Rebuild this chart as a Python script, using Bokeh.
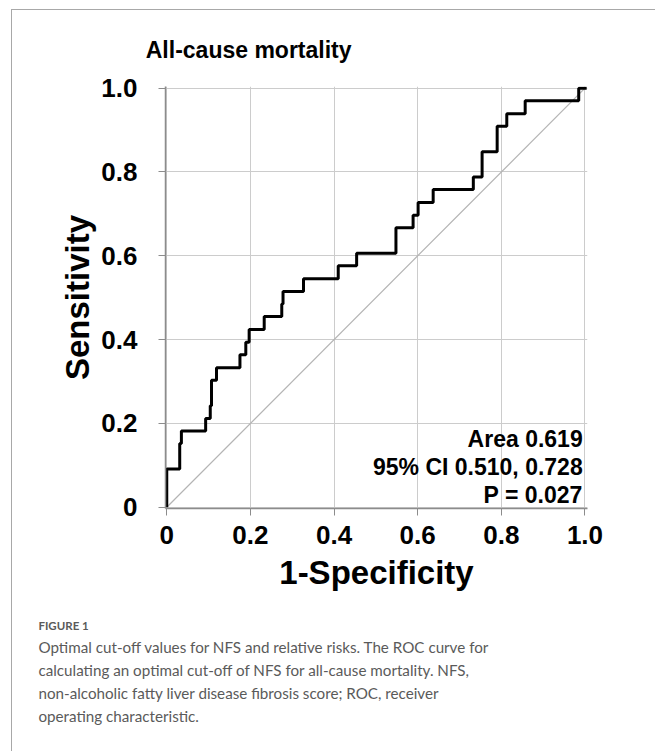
from bokeh.plotting import figure
from bokeh.models import Range1d, FixedTicker, Label, Title
from bokeh.embed import file_html
from bokeh.resources import INLINE

# ---- data ----
fpr = [0, 0, 0.031, 0.035, 0.093, 0.104, 0.107, 0.119, 0.175, 0.189, 0.197,
       0.233, 0.275, 0.278, 0.327, 0.410, 0.454, 0.548, 0.589, 0.601, 0.637,
       0.733, 0.754, 0.790, 0.813, 0.857, 0.985, 1.004]
tpr = [0, 0.091, 0.152, 0.182, 0.212, 0.242, 0.303, 0.333, 0.364, 0.394, 0.424,
       0.455, 0.485, 0.515, 0.545, 0.576, 0.606, 0.667, 0.697, 0.727, 0.758,
       0.788, 0.848, 0.909, 0.939, 0.970, 1.0, 1.0]
diag = [0, 1]
ticks = [0, 0.2, 0.4, 0.6, 0.8, 1.0]
tick_labels = ["0", "0.2", "0.4", "0.6", "0.8", "1.0"]
title_text = "All-cause mortality"
x_title = "1-Specificity"
y_title = "Sensitivity"
stats_lines = ["Area 0.619", "95% CI 0.510, 0.728", "P = 0.027"]
caption_head = "FIGURE 1"
caption_lines = [
    "Optimal cut-off values for NFS and relative risks. The ROC curve for",
    "calculating an optimal cut-off of NFS for all-cause mortality. NFS,",
    "non-alcoholic fatty liver disease fibrosis score; ROC, receiver",
    "operating characteristic.",
]

# ---- layout helpers (page pixels -> data) ----
OX, OY = 12, 10           # canvas origin on the page (after margin + border)
PX0, PX1 = 166.0, 584.0   # page x of 0 and 1
PY0, PY1 = 507.0, 88.0    # page y of 0 and 1
SX = PX1 - PX0
SY = PY0 - PY1


def dx(px):
    return (px - PX0) / SX


def dy(py):
    return (PY0 - py) / SY


xr = Range1d(-0.003, 1.006)
yr = Range1d(-0.003, 1.004)
fw = round((xr.end - xr.start) * SX)
fh = round((yr.end - yr.start) * SY)
left = round(PX0 + xr.start * SX - OX)
top = round(PY1 - (yr.end - 1) * SY - OY)
W, H = 655 - OX, 751 - OY

p = figure(frame_width=fw, frame_height=fh, x_range=xr, y_range=yr,
           min_border_left=left, min_border_top=top,
           min_border_right=W - left - fw, min_border_bottom=H - top - fh,
           output_backend="svg", toolbar_location=None, tools="")
p.styles = {"margin-left": "11px", "margin-top": "9px",
            "border-left": "1px solid #a8a8a8", "border-top": "1px solid #a8a8a8"}
p.outline_line_color = None
p.background_fill_color = "white"
p.border_fill_color = "white"

FONT = "Liberation Sans"
overrides = dict(zip(ticks, tick_labels))
for ax in (p.xaxis[0], p.yaxis[0]):
    ax.ticker = FixedTicker(ticks=ticks)
    ax.major_label_overrides = overrides
    ax.axis_line_color = "#8c8c8c"
    ax.axis_line_width = 1.5
    ax.major_tick_line_color = "#8c8c8c"
    ax.major_tick_out = 7
    ax.major_tick_in = 0
    ax.minor_tick_line_color = None
    ax.major_label_text_font = FONT
    ax.major_label_text_font_style = "bold"
    ax.major_label_text_font_size = "26px"
    ax.major_label_text_color = "black"
    ax.axis_label_text_font = FONT
    ax.axis_label_text_font_style = "bold"
    ax.axis_label_text_font_size = "33px"
    ax.axis_label_text_color = "black"

p.xaxis.axis_label = x_title
p.yaxis.axis_label = y_title
p.xaxis.major_label_standoff = 10
p.yaxis.major_label_standoff = 21
p.xaxis.axis_label_standoff = 7
p.yaxis.axis_label_standoff = 2

for g in (p.xgrid[0], p.ygrid[0]):
    g.grid_line_color = "#cccccc"
    g.grid_line_width = 1

p.line(diag, diag, line_color="#b4b4b4", line_width=1.2)
p.step(fpr, tpr, mode="after", line_color="black", line_width=3)

# title (above panel)
p.title.text = title_text
p.title.align = "left"
p.title.offset = 145 - (PX0 + xr.start * SX)
p.title.standoff = 47
p.title.text_font = FONT
p.title.text_font_style = "bold"
p.title.text_font_size = "23px"
p.title.text_color = "black"

# stats (inside frame)
for txt, mid in zip(stats_lines, [438.7, 467.0, 494.3]):
    p.add_layout(Label(x=dx(581.7), y=dy(mid), text=txt, text_align="right",
                       text_baseline="middle", text_font=FONT,
                       text_font_style="bold", text_font_size="23px",
                       text_color="black"))

# caption (below panels)
CFONT = "Lato"
cap_off = 37.7 - (PX0 + xr.start * SX)
p.add_layout(Title(text=caption_head, align="left", offset=cap_off, standoff=46,
                   text_font=CFONT, text_font_style="bold", text_font_size="11.5px",
                   text_color="#5a5a5a"), "below")
p.add_layout(Title(text="\n".join(caption_lines), align="left", offset=cap_off,
                   standoff=-37, text_font=CFONT, text_font_style="normal",
                   text_font_size="15.2px", text_line_height=1.28,
                   text_color="#5a5a5a"), "below")

open("out.html", "w").write(file_html(p, INLINE))
